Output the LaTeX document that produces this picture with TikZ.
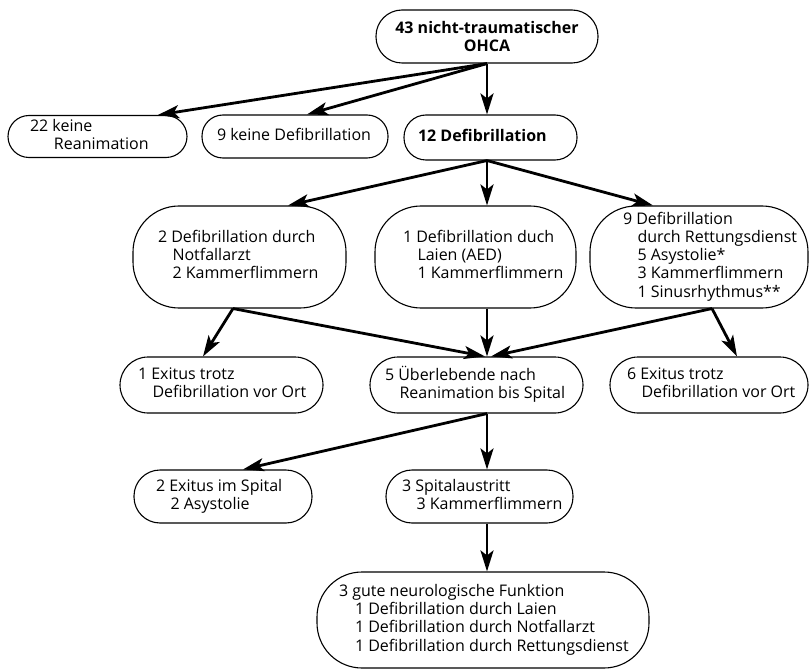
\documentclass[tikz,border=0pt]{standalone}
\usepackage{fontspec}
\setmainfont{Open Sans}
\usetikzlibrary{arrows.meta}
\newcommand{\bt}[3]{\makebox[#1pt][l]{\hspace*{#2pt}\begin{tabular}{@{}l@{}}#3\end{tabular}}}
\newcommand{\ii}{\hspace*{14.5pt}}
\begin{document}
\begin{tikzpicture}[x=1pt,y=-1pt,
  box/.style={draw, line width=1.1pt, inner sep=0pt, font=\fontsize{16}{18.3}\selectfont},
  arr/.style={line width=2.8pt, -{Stealth[length=21pt,width=13pt,inset=5pt]}}]
\useasboundingbox (0,0) rectangle (811,671);
% nodes
\node[box, minimum width=222pt, minimum height=53pt, rounded corners=26pt, align=center,
      font=\fontsize{16}{18.3}\selectfont\bfseries] (top) at (487,36.5) {43 nicht-traumatischer\\OHCA};
\node[box, minimum width=179pt, minimum height=42pt, rounded corners=21pt] (k22) at (97.5,136.5)
  {\bt{179}{22}{22 keine\\\hspace*{24pt}Reanimation}};
\node[box, minimum width=186pt, minimum height=43pt, rounded corners=21pt] (k9) at (295,136.5)
  {\bt{186}{15}{9 keine Defibrillation}};
\node[box, minimum width=173pt, minimum height=45pt, rounded corners=22pt] (d12) at (490.5,137.5)
  {\bt{173}{14}{\bfseries 12 Defibrillation}};
\node[box, minimum width=213pt, minimum height=102pt, rounded corners=46pt] (A) at (239.5,257)
  {\bt{213}{25}{2 Defibrillation durch\\\ii Notfallarzt\\\ii 2 Kammerflimmern}};
\node[box, minimum width=201pt, minimum height=102pt, rounded corners=46pt] (B) at (475.5,257)
  {\bt{201}{28}{1 Defibrillation duch\\\ii Laien (AED)\\\ii 1 Kammerflimmern}};
\node[box, minimum width=218pt, minimum height=102pt, rounded corners=46pt] (C) at (699,257)
  {\bt{218}{33}{9 Defibrillation\\\ii durch Rettungsdienst\\\ii 5 Asystolie*\\\ii 3 Kammerflimmern\\\ii 1 Sinusrhythmus**}};
\node[box, minimum width=203pt, minimum height=56pt, rounded corners=28pt] (E1) at (221.5,385)
  {\bt{203}{18}{1 Exitus trotz\\\ii Defibrillation vor Ort}};
\node[box, minimum width=213pt, minimum height=56pt, rounded corners=28pt] (U) at (476.5,385)
  {\bt{213}{15}{5 Überlebende nach\\\ii Reanimation bis Spital}};
\node[box, minimum width=198pt, minimum height=56pt, rounded corners=28pt] (E6) at (709,385)
  {\bt{198}{17}{6 Exitus trotz\\\ii Defibrillation vor Ort}};
\node[box, minimum width=178pt, minimum height=53pt, rounded corners=26pt] (ES) at (223,496.5)
  {\bt{178}{22}{2 Exitus im Spital\\\ii 2 Asystolie}};
\node[box, minimum width=187pt, minimum height=53pt, rounded corners=26pt] (SA) at (479.5,496.5)
  {\bt{187}{16}{3 Spitalaustritt\\\ii 3 Kammerflimmern}};
\node[box, minimum width=332pt, minimum height=96pt, rounded corners=45pt] (G) at (483,620)
  {\bt{332}{22}{3 gute neurologische Funktion\\\hspace*{16pt}1 Defibrillation durch Laien\\\hspace*{16pt}1 Defibrillation durch Notfallarzt\\\hspace*{16pt}1 Defibrillation durch Rettungsdienst}};
% connectors
\draw[arr] (top.south) -- ([xshift=60.5pt]k22.north);
\draw[arr] (top.south) -- ([xshift=12pt]k9.north);
\draw[arr] (top.south) -- (top.south |- d12.north);
\draw[arr] ([xshift=-3.5pt]d12.south) -- ([xshift=48.5pt]A.north);
\draw[arr] ([xshift=-3.5pt]d12.south) -- ([xshift=11.5pt]B.north);
\draw[arr] ([xshift=-3.5pt]d12.south) -- ([xshift=-46pt]C.north);
\draw[arr] ([xshift=-6.5pt]A.south) -- ([xshift=-18.5pt]E1.north);
\draw[arr] ([xshift=-6.5pt]A.south) -- ([xshift=8.5pt]U.north);
\draw[arr] ([xshift=11.5pt]B.south) -- ([xshift=10.5pt]U.north);
\draw[arr] ([xshift=13pt]C.south) -- ([xshift=14.5pt]U.north);
\draw[arr] ([xshift=13pt]C.south) -- ([xshift=28pt]E6.north);
\draw[arr] ([xshift=10.5pt]U.south) -- ([xshift=20pt]ES.north);
\draw[arr] ([xshift=10.5pt]U.south) -- ([xshift=7.5pt]SA.north);
\draw[arr] ([xshift=7.5pt]SA.south) -- ([xshift=4pt]G.north);
\end{tikzpicture}
\end{document}
